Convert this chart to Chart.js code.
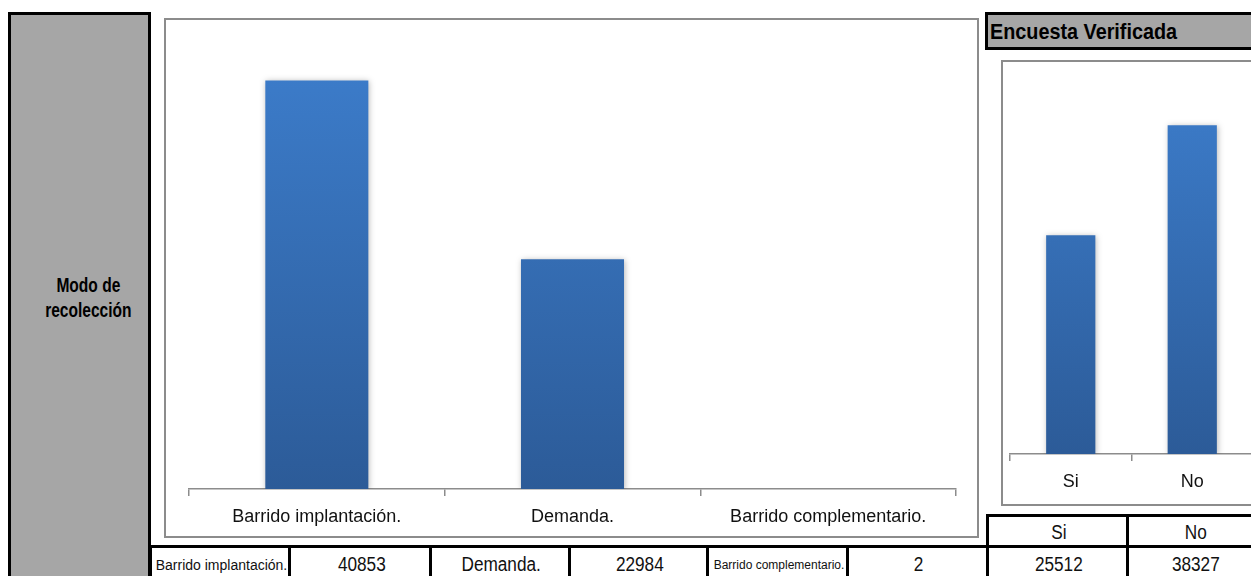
<!DOCTYPE html>
<html>
<head>
<meta charset="utf-8">
<script src="https://cdn.jsdelivr.net/npm/chart.js@4/dist/chart.umd.min.js"></script>
<style>
  html, body { margin: 0; padding: 0; background: #fff; overflow: hidden; }
  body { width: 1251px; height: 576px; position: relative; font-family: "Liberation Sans", Arial, sans-serif; }
  .box { position: absolute; box-sizing: border-box; }
  .cell { position: absolute; box-sizing: border-box; display: flex; align-items: center; justify-content: center; color: #111; white-space: nowrap; }
  .narrow { display: inline-block; transform: scaleX(0.86); }
  #side { left: 8px; top: 12px; width: 143px; height: 570px; background: #a6a6a6; border: 3px solid #000; font-weight: bold; font-size: 21px; text-align: center; display: flex; align-items: center; justify-content: center; line-height: 25px; padding-left: 18px; }
  #side span { transform: scaleX(0.74); }
  #frameL { left: 164px; top: 18px; width: 815px; height: 520px; border: 2px solid #8c8c8c; }
  #frameR { left: 1001px; top: 60px; width: 270px; height: 446px; border: 2px solid #8c8c8c; }
  #head { left: 985px; top: 12px; width: 280px; height: 38px; background: #a6a6a6; border: 3px solid #000; font-weight: bold; font-size: 22px; display: flex; align-items: center; padding-top: 2px; }
  #head span { transform-origin: left center; transform: scaleX(0.9); margin-left: 2px; }
  canvas { position: absolute; }
</style>
</head>
<body>
<div id="side" class="box"><span class="narrow">Modo de<br>recolección</span></div>
<div id="frameL" class="box"></div>
<div id="frameR" class="box"></div>
<div id="head" class="box"><span class="narrow">Encuesta Verificada</span></div>
<canvas id="modoChart" style="left:166px;top:20px;width:811px;height:516px"></canvas>
<canvas id="verifChart" style="left:1003px;top:62px;width:260px;height:442px"></canvas>
<div id="table"></div>

<script>
const modoLabels = ['Barrido implantación.', 'Demanda.', 'Barrido complementario.']
const modoValues = [40853, 22984, 2]
const verifLabels = ['Si', 'No']
const verifValues = [25512, 38327]
const yMax = 45000

const fontFamily = '"Liberation Sans", Arial, sans-serif'

// blue bars, lighter at the top
function barGradient(context) {
  const area = context.chart.chartArea
  if (!area) return '#3a79c6'
  const g = context.chart.ctx.createLinearGradient(0, area.top, 0, area.bottom)
  g.addColorStop(0, '#3d7ecd')
  g.addColorStop(1, '#2c5b98')
  return g
}

const barShadow = {
  id: 'barShadow',
  beforeDatasetsDraw(chart) {
    const ctx = chart.ctx
    ctx.save()
    ctx.shadowColor = 'rgba(0,0,0,0.28)'
    ctx.shadowBlur = 6
    ctx.shadowOffsetX = 1
    ctx.shadowOffsetY = 1
  },
  afterDatasetsDraw(chart) {
    chart.ctx.restore()
  }
}

function makeChart(id, labels, values, pad, axisHeight, barPct) {
  const el = document.getElementById(id)
  el.width = parseInt(el.style.width)
  el.height = parseInt(el.style.height)
  return new Chart(el.getContext('2d'), {
    type: 'bar',
    data: {
      labels: labels,
      datasets: [{
        data: values,
        backgroundColor: barGradient,
        barPercentage: barPct,
        categoryPercentage: 1
      }]
    },
    plugins: [barShadow],
    options: {
      responsive: false,
      animation: false,
      layout: { padding: pad },
      plugins: { legend: { display: false }, tooltip: { enabled: false } },
      scales: {
        y: { display: false, min: 0, max: yMax },
        x: {
          afterFit: scale => { scale.height = axisHeight },
          border: { display: true, color: '#8c8c8c', width: 1.5 },
          grid: { offset: true, drawOnChartArea: false, drawTicks: true, tickLength: 7, color: '#8c8c8c', lineWidth: 1.5 },
          ticks: { color: '#111', padding: 10, maxRotation: 0, font: { family: fontFamily, size: 18 } }
        }
      }
    }
  })
}

makeChart('modoChart', modoLabels, modoValues, { left: 23, right: 21, top: 19, bottom: 0 }, 47, 0.403)
makeChart('verifChart', verifLabels, verifValues, { left: 7, right: 10, top: 6, bottom: 0 }, 50, 0.405)

// value table along the bottom
const table = document.getElementById('table')
function cell(x, y, w, h, text, size, narrow) {
  const d = document.createElement('div')
  d.className = 'cell'
  d.style.left = x + 'px'
  d.style.top = y + 'px'
  d.style.width = w + 'px'
  d.style.height = h + 'px'
  d.style.fontSize = size + 'px'
  d.style.borderTop = '3px solid #000'
  d.style.borderLeft = '3px solid #000'
  const s = document.createElement('span')
  if (narrow) s.className = 'narrow'
  s.textContent = text
  d.appendChild(s)
  table.appendChild(d)
}
const colX = [149, 288, 429, 568, 706, 846, 986, 1126, 1260]
const labelSizes = [14, 20, 12]
const rowCells = []
modoLabels.forEach((label, i) => {
  rowCells.push([label, labelSizes[i], labelSizes[i] > 16])
  rowCells.push([String(modoValues[i]), 20, true])
})
verifValues.forEach(v => rowCells.push([String(v), 20, true]))
rowCells.forEach((c, i) => {
  cell(colX[i], 545, colX[i + 1] - colX[i] + 3, 36, c[0], c[1], c[2])
})
verifLabels.forEach((label, i) => {
  cell(colX[6 + i], 514, colX[7 + i] - colX[6 + i] + 3, 34, label, 20, true)
})
</script>
</body>
</html>
